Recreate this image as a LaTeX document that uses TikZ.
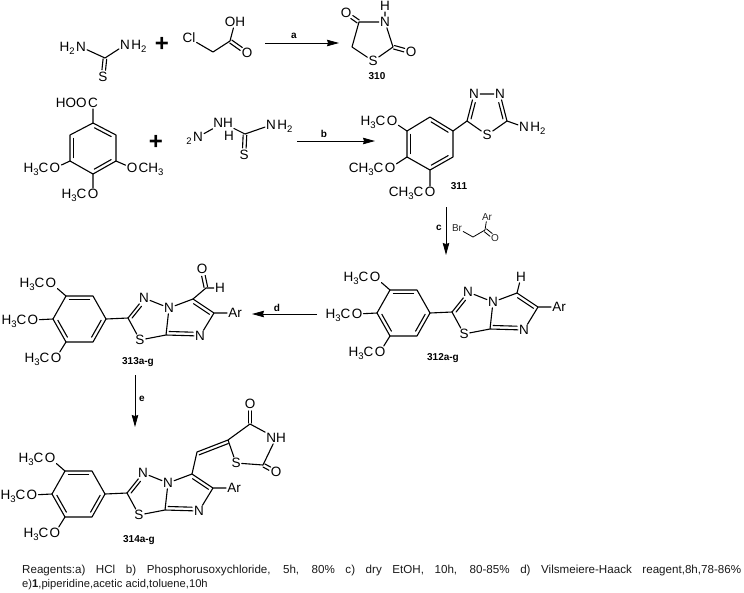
\documentclass[tikz,border=0pt]{standalone}
\usepackage{fontspec}
\setmainfont{Liberation Sans}
\usetikzlibrary{calc,arrows.meta}
\newcommand\lowi[1]{\raisebox{-2.6pt}{\fontsize{9.5}{9.5}\selectfont #1}}
\tikzset{
  x=1pt,y=-1pt,
  bond/.style={line width=1.1pt,line cap=round,line join=round,black},
  atom/.style={font=\fontsize{13.5}{13.5}\selectfont,inner sep=1pt,text=black},
  pre/.style={font=\fontsize{13.5}{13.5}\selectfont,inner sep=0pt,anchor=base east,text=black},
  suf/.style={font=\fontsize{13.5}{13.5}\selectfont,inner sep=0pt,anchor=base west,text=black},
  small/.style={font=\fontsize{10}{10}\selectfont,inner sep=1pt,text=black!85},
  cmpd/.style={font=\fontsize{10}{10}\bfseries\selectfont,inner sep=0pt},
  plus/.style={font=\fontsize{24}{24}\bfseries\selectfont,inner sep=0pt},
  rxn/.style={line width=.85pt,black,-{Stealth[length=12pt,width=6.5pt,inset=1pt]}},
  caption/.style={font=\fontsize{11.2}{13}\selectfont,inner sep=0pt,anchor=base west,text=black!90},
}
% parallel line to the right of a->b, at distance #3, ends shortened by #4 and #5
\newcommand\offb[5]{\draw[bond,shorten <=#4,shorten >=#5] ($(#1)!#3!-90:(#2)$) -- ($(#2)!#3!90:(#1)$);}
% two lines centred on a->b
\newcommand\twob[4]{\offb{#1}{#2}{1.8pt}{#3}{#4}\offb{#1}{#2}{-1.8pt}{#3}{#4}}
% trimethoxyphenyl ring, names prefixed #1
\newcommand\phenyl[1]{
  \coordinate (#1L) at (0,0);
  \coordinate (#1UL) at (13,-23);
  \coordinate (#1UR) at (40,-23);
  \coordinate (#1R) at (53,0);
  \coordinate (#1LR) at (40,23);
  \coordinate (#1LL) at (13,23);
  \draw[bond] (#1L)--(#1UL) (#1UL)--(#1UR) (#1UR)--(#1R) (#1R)--(#1LR) (#1LR)--(#1LL) (#1LL)--(#1L);
  \offb{#1UL}{#1UR}{3.6pt}{3.5pt}{3.5pt}
  \offb{#1R}{#1LR}{3.6pt}{3.5pt}{3.5pt}
  \offb{#1LL}{#1L}{3.6pt}{3.5pt}{3.5pt}
  \node[atom] (#1Ot) at (-2,-36) {O};
  \node[pre] (#1Otp) at (#1Ot.base west) {H\lowi{3}C};
  \node[atom] (#1Om) at (-20,1) {O};
  \node[pre] (#1Omp) at (#1Om.base west) {H\lowi{3}C};
  \node[atom] (#1Ob) at (3,39) {O};
  \node[pre] (#1Obp) at (#1Ob.base west) {H\lowi{3}C};
  \draw[bond] (#1UL)--(#1Ot) (#1L)--(#1Om) (#1LL)--(#1Ob);
}
% fused thiadiazolo-imidazole on the phenyl ring
\newcommand\bicycle[1]{
  \phenyl{#1}
  \coordinate (#1C) at (75,-1);
  \node[atom] (#1N) at (91,-21) {N};
  \node[atom] (#1Nb) at (116,-11) {N};
  \coordinate (#1Cb) at (113,16);
  \node[atom] (#1S) at (87,21) {S};
  \coordinate (#1Ci) at (140,-20);
  \coordinate (#1Ca) at (161,-6);
  \node[atom] (#1Ni) at (147,17) {N};
  \node[atom] (#1Ar) at (182,-6) {Ar};
  \draw[bond] (#1R)--(#1C) (#1C)--(#1N) (#1N)--(#1Nb) (#1Nb)--(#1Cb) (#1Cb)--(#1S) (#1S)--(#1C)
    (#1Nb)--(#1Ci) (#1Ci)--(#1Ca) (#1Ca)--(#1Ni) (#1Ni)--(#1Cb) (#1Ca)--(#1Ar);
  \offb{#1C}{#1N}{3.2pt}{2.5pt}{8pt}
  \offb{#1Ci}{#1Ca}{3.6pt}{3pt}{3pt}
  \offb{#1Ni}{#1Cb}{3.6pt}{7pt}{3pt}
}
\begin{document}
\begin{tikzpicture}
\useasboundingbox (0,0) rectangle (744,592);

% --- thiourea
\node[atom] (tuA) at (81,47) {N};
\node[pre] (tuAp) at (tuA.base west) {H\lowi{2}};
\node[atom] (tuB) at (125,45) {N};
\node[suf] (tuBs) at (tuB.base east) {H\lowi{2}};
\coordinate (tuC) at (105,58);
\node[atom] (tuS) at (103,77) {S};
\draw[bond] (tuA)--(tuC) (tuC)--(tuB);
\twob{tuC}{tuS}{1pt}{7pt}
\node[plus] (plusA) at (162,44) {+};

% --- chloroacetic acid
\node[atom] (clA) at (189,38) {Cl};
\coordinate (clB) at (213,52);
\coordinate (clC) at (230,41);
\node[atom] (clOH) at (235,22) {OH};
\node[atom] (clO) at (247,53) {O};
\draw[bond] (clA)--(clB) (clB)--(clC) (clC)--(clOH);
\twob{clC}{clO}{1pt}{7pt}

% --- arrow a
\coordinate (aS) at (265,43);
\coordinate (aE) at (339,43);
\draw[rxn] (aS)--(aE);
\node[cmpd] (aL) at (294,36) {a};

% --- 310
\coordinate (tzC4) at (359,22);
\node[atom] (tzN) at (385,22) {N};
\coordinate (tzC2) at (393,47);
\node[atom] (tzS) at (373,61) {S};
\coordinate (tzC5) at (352,47);
\node[atom] (tzO) at (346,13) {O};
\node[atom] (tzH) at (385,6) {H};
\node[atom] (tzOb) at (411,52) {O};
\draw[bond] (tzC4)--(tzN) (tzN)--(tzC2) (tzC2)--(tzS) (tzS)--(tzC5) (tzC5)--(tzC4) (tzN)--(tzH);
\twob{tzC4}{tzO}{1pt}{7pt}
\twob{tzC2}{tzOb}{1pt}{7pt}
\node[cmpd] (l310) at (377,76) {310};

% --- trimethoxybenzoic acid
\coordinate (baT) at (93,123);
\coordinate (baUR) at (116,135);
\coordinate (baLR) at (116,161);
\coordinate (baB) at (93,174);
\coordinate (baLL) at (70,161);
\coordinate (baUL) at (70,135);
\draw[bond] (baT)--(baUR) (baUR)--(baLR) (baLR)--(baB) (baB)--(baLL) (baLL)--(baUL) (baUL)--(baT);
\offb{baT}{baUR}{3.6pt}{3.5pt}{3.5pt}
\offb{baLR}{baB}{3.6pt}{3.5pt}{3.5pt}
\offb{baLL}{baUL}{3.6pt}{3.5pt}{3.5pt}
\node[atom] (baC) at (93,103) {C};
\node[pre] (baCp) at (baC.base west) {HOO};
\node[atom] (baOr) at (132,168) {O};
\node[suf] (baOrs) at (baOr.base east) {CH\lowi{3}};
\node[atom] (baOl) at (55,168) {O};
\node[pre] (baOlp) at (baOl.base west) {H\lowi{3}C};
\node[atom] (baOb) at (93,194) {O};
\node[pre] (baObp) at (baOb.base west) {H\lowi{3}C};
\draw[bond] (baT)--(baC) (baLR)--(baOr) (baLL)--(baOl) (baB)--(baOb);
\node[plus] (plusB) at (156,142) {+};

% --- thiosemicarbazide
\node[atom] (hyN) at (198,137) {N};
\node[pre] (hyNp) at (hyN.base west) {\lowi{2}};
\node[atom] (hyNH) at (223,123) {NH};
\node[atom] (hyH) at (229,136) {H};
\coordinate (hyC) at (245,134);
\node[atom] (hyS) at (244,155) {S};
\node[atom] (hyNb) at (271,125) {N};
\node[suf] (hyNbs) at (hyNb.base east) {H\lowi{2}};
\draw[bond] (hyN)--(hyNH) (hyNH)--(hyC) (hyC)--(hyNb);
\twob{hyC}{hyS}{1pt}{7pt}

% --- arrow b
\coordinate (bS) at (297,141);
\coordinate (bE) at (375,141);
\draw[rxn] (bS)--(bE);
\node[cmpd] (bL) at (324,134) {b};

% --- 311
\coordinate (amT) at (430,117);
\coordinate (amUR) at (453,131);
\coordinate (amLR) at (453,157);
\coordinate (amB) at (430,170);
\coordinate (amLL) at (407,157);
\coordinate (amUL) at (407,131);
\draw[bond] (amT)--(amUR) (amUR)--(amLR) (amLR)--(amB) (amB)--(amLL) (amLL)--(amUL) (amUL)--(amT);
\offb{amT}{amUR}{3.6pt}{3.5pt}{3.5pt}
\offb{amLR}{amB}{3.6pt}{3.5pt}{3.5pt}
\offb{amLL}{amUL}{3.6pt}{3.5pt}{3.5pt}
\node[atom] (amOa) at (392,121) {O};
\node[pre] (amOap) at (amOa.base west) {H\lowi{3}C};
\node[atom] (amOb) at (390,168) {O};
\node[pre] (amObp) at (amOb.base west) {CH\lowi{3}C};
\node[atom] (amOc) at (430,192) {O};
\node[pre] (amOcp) at (amOc.base west) {CH\lowi{3}C};
\draw[bond] (amUL)--(amOa) (amLL)--(amOb) (amB)--(amOc);
\coordinate (amCa) at (467,121);
\node[atom] (amNa) at (474,94) {N};
\node[atom] (amNb) at (500,94) {N};
\coordinate (amCb) at (507,121);
\node[atom] (amS) at (487,135) {S};
\node[atom] (amN) at (524,127) {N};
\node[suf] (amNs) at (amN.base east) {H\lowi{2}};
\draw[bond] (amUR)--(amCa) (amCa)--(amNa) (amNa)--(amNb) (amNb)--(amCb) (amCb)--(amS) (amS)--(amCa) (amCb)--(amN);
\offb{amCa}{amNa}{3.4pt}{3pt}{8pt}
\offb{amNb}{amCb}{3.4pt}{8pt}{3pt}
\node[cmpd] (l311) at (459,186) {311};

% --- arrow c and bromoketone
\coordinate (cS) at (446,207);
\coordinate (cE) at (446,255);
\draw[rxn] (cS)--(cE);
\node[cmpd] (cL) at (439,228) {c};
\node[small] (brB) at (457,228) {Br};
\coordinate (brC) at (473,237);
\coordinate (brD) at (485,230);
\node[small] (brA) at (487,217) {Ar};
\node[small] (brO) at (495,238) {O};
\draw[bond,line width=.8pt] (brB)--(brC) (brC)--(brD) (brD)--(brA);
\begin{scope}[bond/.append style={line width=.8pt}]
\twob{brD}{brO}{.5pt}{5pt}
\end{scope}

% --- 312
\begin{scope}[shift={(377,313)}]
\bicycle{a}
\node[atom] (aH) at (144,-36) {H};
\draw[bond] (aCi)--(aH);
\end{scope}
\node[cmpd] (l312) at (443,358) {312a-g};

% --- arrow d
\coordinate (dS) at (317,314);
\coordinate (dE) at (252,314);
\draw[rxn] (dS)--(dE);
\node[cmpd] (dL) at (277,308) {d};

% --- 313
\begin{scope}[shift={(53,319)}]
\bicycle{b}
\coordinate (bCH) at (153,-31);
\node[atom] (bO) at (149,-50) {O};
\node[atom] (bH) at (167,-31) {H};
\draw[bond] (bCi)--(bCH) (bCH)--(bH);
\twob{bCH}{bO}{1pt}{7pt}
\end{scope}
\node[cmpd] (l313) at (138,362) {313a-g};

% --- arrow e
\coordinate (eS) at (135,375);
\coordinate (eE) at (135,427);
\draw[rxn] (eS)--(eE);
\node[cmpd] (eL) at (142,399) {e};

% --- 314
\begin{scope}[shift={(52,494)}]
\bicycle{c}
\end{scope}
\coordinate (cCH) at (197,452);
\coordinate (cC5) at (228,440);
\coordinate (cC4) at (250,424);
\node[atom] (cNH) at (276,438) {NH};
\coordinate (cC2) at (263,465);
\node[atom] (cSb) at (236,463) {S};
\node[atom] (cOa) at (250,404) {O};
\node[atom] (cOb) at (276,472) {O};
\draw[bond] (cCi)--(cCH) (cCH)--(cC5) (cC5)--(cC4) (cC4)--(cNH) (cNH)--(cC2) (cC2)--(cSb) (cSb)--(cC5);
\offb{cCH}{cC5}{3.4pt}{1pt}{1pt}
\twob{cC4}{cOa}{1pt}{7pt}
\twob{cC2}{cOb}{1pt}{7pt}
\node[cmpd] (l314) at (139,540) {314a-g};

% --- caption
\node[caption,font=\fontsize{11.6}{13}\selectfont] (capA) at (22,573) {\hbox to 719pt{Reagents:a) HCl b) Phosphorusoxychloride, 5h, 80\% c) dry EtOH, 10h, 80-85\% d) Vilsmeiere-Haack reagent,8h,78-86\%}};
\node[caption] (capB) at (22,587) {e)\textbf{1},piperidine,acetic acid,toluene,10h};
\end{tikzpicture}
\end{document}
